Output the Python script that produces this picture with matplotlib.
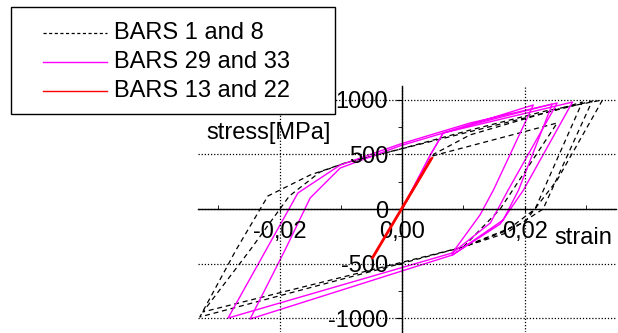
import matplotlib
matplotlib.use("Agg")
import matplotlib.pyplot as plt
from matplotlib.ticker import MultipleLocator, FuncFormatter
from matplotlib.lines import Line2D
from matplotlib.patches import Rectangle

plt.rcParams['font.family'] = ['Liberation Sans', 'DejaVu Sans']
plt.rcParams['axes.unicode_minus'] = False

# BARS 1 and 8 (dashed black)
d1_strain = [0, 0.0052, 0.0111, 0.0294, 0.0217, 0.0170, 0.0100, -0.0330, -0.0271, -0.0219,
             -0.0150, -0.0093, -0.0003, 0.0111, 0.0234, 0.0327, 0.0253, 0.0200, 0.0100]
d1_stress = [0, 504, 680, 981, 0, -200, -348, -990, -376, 119,
             312, 422, 550, 724, 899, 1000, 266, -120, -348]
d2_strain = [0, 0.0049, 0.0253, 0.0160, 0.0100, -0.0325, -0.0248, -0.0184, -0.0134,
             -0.0093, 0.0310, 0.0230, 0.0170, 0.0100]
d2_stress = [0, 486, 789, 0, -348, -944, -376, 119, 339,
             422, 990, 0, -220, -348]

# BARS 29 and 33 (magenta)
m1_strain = [0, 0.0046, 0.0067, 0.0214, 0.0149, 0.0127, 0.0082, -0.0284, -0.0222, -0.0170,
             -0.0101, -0.0003, 0.0111, 0.0253, 0.0173, 0.0144, 0.0082]
m1_stress = [0, 495, 697, 954, 174, -55, -403, -1000, -376, 147,
             403, 596, 789, 972, 174, -128, -403]
m2_strain = [0, 0.0046, 0.0067, 0.0278, 0.0198, 0.0160, 0.0082, -0.0248, -0.0191, -0.0150,
             -0.0101, -0.0003, 0.0111, 0.0245, 0.0190, 0.0165, 0.0082]
m2_stress = [0, 495, 697, 981, 174, -138, -422, -1009, -376, 101,
             376, 580, 770, 963, 174, -100, -422]

# BARS 13 and 22 (red, elastic)
r1_strain = [-0.0049, 0.0047]
r1_stress = [-449, 459]
r2_strain = [-0.0047, 0.0049]
r2_stress = [-440, 468]

labels = ["BARS 1 and 8", "BARS 29 and 33", "BARS 13 and 22"]

fs = 17
fig = plt.figure(figsize=(6.18, 3.33), dpi=100)
ax = fig.add_axes([0.3204, 0.003, 0.6764, 0.7387])

dash = (0, (4, 3))
ax.plot(d1_strain, d1_stress, color='black', lw=0.9, linestyle=dash)
ax.plot(d2_strain, d2_stress, color='black', lw=0.9, linestyle=dash)
ax.plot(m1_strain, m1_stress, color='#ff00ff', lw=1.0)
ax.plot(m2_strain, m2_stress, color='#ff00ff', lw=1.0)
ax.plot(r1_strain, r1_stress, color='#ff0000', lw=1.6, zorder=4)
ax.plot(r2_strain, r2_stress, color='#ff0000', lw=1.6, zorder=4)

ax.set_xlim(-0.0333, 0.0349)
ax.set_ylim(-1128, 1128)

# axes through the origin
ax.spines['left'].set_position(('data', 0))
ax.spines['bottom'].set_position(('data', 0))
ax.spines['top'].set_visible(False)
ax.spines['right'].set_visible(False)
for s in ['left', 'bottom']:
    ax.spines[s].set_linewidth(1.0)

ax.xaxis.set_major_locator(MultipleLocator(0.02))
ax.xaxis.set_minor_locator(MultipleLocator(0.01))
ax.yaxis.set_major_locator(MultipleLocator(500))
ax.yaxis.set_minor_locator(MultipleLocator(250))
ax.xaxis.set_major_formatter(FuncFormatter(lambda v, p: f"{v:.2f}".replace('.', ',').replace('-0,00', '0,00')))
ax.yaxis.set_major_formatter(FuncFormatter(lambda v, p: f"{v:.0f}"))

ax.tick_params(axis='y', which='major', direction='out', length=4, pad=6, labelsize=fs)
ax.tick_params(axis='y', which='minor', direction='out', length=3)
ax.tick_params(axis='x', which='major', direction='inout', length=4, pad=6.5, labelsize=fs)
ax.tick_params(axis='x', which='minor', direction='in', length=3)

ax.grid(True, which='major', color='black', linestyle=(0, (1, 1.5)), lw=0.9)
ax.set_axisbelow(False)

fig.text(206 / 618, 1 - 133 / 333, "stress[MPa]", fontsize=fs, ha='left', va='center')
fig.text(554 / 618, 1 - 238 / 333, "strain", fontsize=fs, ha='left', va='center')

# legend box drawn by hand (wide left padding as in the original)
x0, y0, x1, y1 = 11, 7, 335, 114
fig.add_artist(Rectangle(((x0 + 1) / 618, 1 - (y1 + 1) / 333), (x1 - x0) / 618, (y1 - y0) / 333,
                         transform=fig.transFigure, facecolor='#444444', edgecolor='none', zorder=9))
fig.add_artist(Rectangle((x0 / 618, 1 - y1 / 333), (x1 - x0) / 618, (y1 - y0) / 333,
                         transform=fig.transFigure, facecolor='white', edgecolor='black', lw=1.0, zorder=10))
styles = [dict(color='black', linestyle=(0, (2.5, 2)), lw=0.9),
          dict(color='#ff00ff', lw=1.0),
          dict(color='#ff0000', lw=1.0)]
for i, (lab, st) in enumerate(zip(labels, styles)):
    yy = 1 - (33 + 29 * i) / 333
    fig.add_artist(Line2D([43 / 618, 107 / 618], [yy, yy], transform=fig.transFigure, zorder=11, **st))
    fig.text(114 / 618, yy, lab, fontsize=fs, ha='left', va='center', zorder=11)

fig.savefig("out.png", dpi=100)
